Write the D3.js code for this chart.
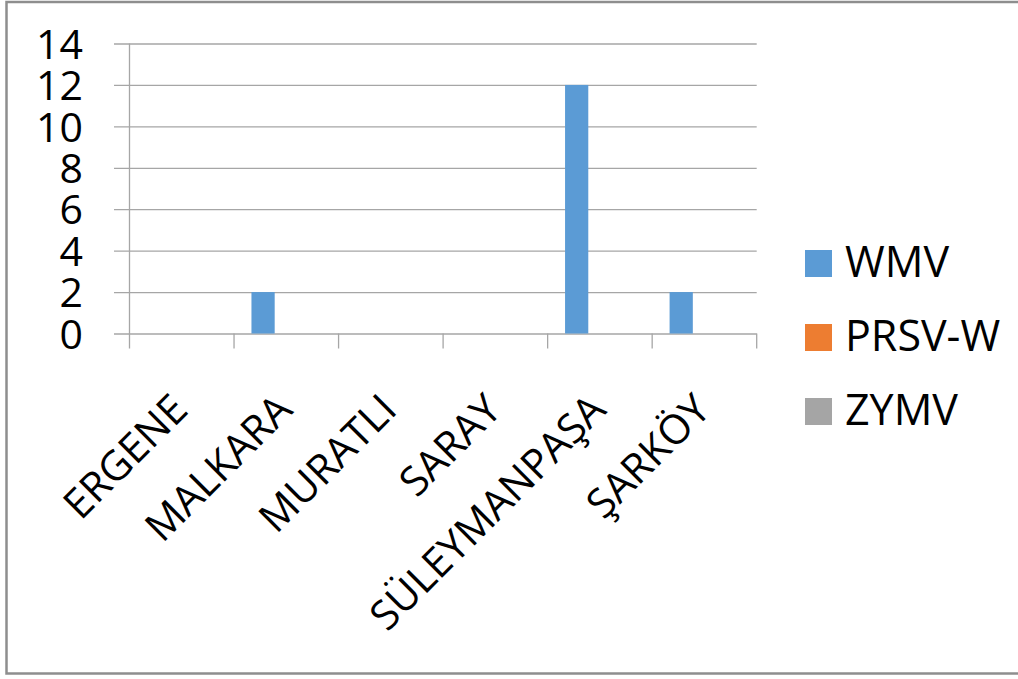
<!DOCTYPE html>
<html>
<head>
<meta charset="utf-8">
<script src="https://cdn.jsdelivr.net/npm/d3@7"></script>
<style>
  html, body { margin: 0; padding: 0; background: #fff; }
  svg { display: block; }
  text { font-family: "Open Sans", "DejaVu Sans", sans-serif; fill: #000; }
</style>
</head>
<body>
<svg id="chart" width="1018" height="679"></svg>
<script>
const categories = ["ERGENE", "MALKARA", "MURATLI", "SARAY", "SÜLEYMANPAŞA", "ŞARKÖY"];
const seriesNames = ["WMV", "PRSV-W", "ZYMV"];
const wmv   = [0, 2, 0, 0, 12, 2];
const prsvw = [0, 0, 0, 0, 0, 0];
const zymv  = [0, 0, 0, 0, 0, 0];
const yTicks = [0, 2, 4, 6, 8, 10, 12, 14];
const colors = ["#5b9bd5", "#ed7d31", "#a5a5a5"];

const seriesValues = [wmv, prsvw, zymv];
const rows = categories.map((c, i) => ({
  cat: c,
  vals: seriesNames.map((s, j) => ({ key: s, value: seriesValues[j][i] }))
}));

const svg = d3.select("#chart");

// outer frame
svg.append("rect")
  .attr("x", 6.5).attr("y", 2)
  .attr("width", 1040).attr("height", 671.5)
  .attr("fill", "#fff")
  .attr("stroke", "#8e8e8e").attr("stroke-width", 2.5);

const plotL = 129.5, plotR = 756.7, plotT = 43.5, plotB = 333.5;
const gridL = 114;

const x = d3.scaleBand().domain(categories).range([plotL, plotR]).paddingInner(0).paddingOuter(0);
const x1 = d3.scaleBand().domain(seriesNames).range([0, x.bandwidth()]).paddingInner(0).paddingOuter(0.75);
const y = d3.scaleLinear().domain([0, 14]).range([plotB, plotT]);

const gridColor = "#a6a6a6";

// horizontal gridlines (extend left past the axis like the original)
const grid = svg.append("g")
  .attr("transform", `translate(${plotR},0)`)
  .call(d3.axisLeft(y).tickValues(yTicks).tickSize(plotR - gridL).tickFormat(""));
grid.select(".domain").remove();
grid.selectAll(".tick line").attr("stroke", gridColor).attr("stroke-width", 1.3);

// y tick labels
const yLab = svg.append("g")
  .attr("transform", `translate(${gridL},0)`)
  .call(d3.axisLeft(y).tickValues(yTicks).tickSize(0).tickPadding(31).tickFormat(d3.format("d")));
yLab.select(".domain").remove();
yLab.selectAll("text")
  .style("font-family", '"Open Sans", sans-serif')
  .style("font-size", "41px")
  .attr("fill", "#000")
  .attr("dy", "0.36em");

// vertical axis line
svg.append("line")
  .attr("x1", plotL).attr("x2", plotL)
  .attr("y1", plotT).attr("y2", plotB + 15)
  .attr("stroke", gridColor).attr("stroke-width", 1.3);

// category boundary ticks
const boundaries = categories.map(c => x(c)).concat([x(categories[categories.length - 1]) + x.bandwidth()]);
svg.append("g").selectAll("line")
  .data(boundaries.slice(1))
  .join("line")
  .attr("x1", d => d).attr("x2", d => d)
  .attr("y1", plotB).attr("y2", plotB + 15)
  .attr("stroke", gridColor).attr("stroke-width", 1.3);

// bars
const groups = svg.append("g").selectAll("g")
  .data(rows)
  .join("g")
  .attr("transform", d => `translate(${x(d.cat)},0)`);
groups.selectAll("rect")
  .data(d => d.vals)
  .join("rect")
  .attr("x", d => x1(d.key))
  .attr("width", x1.bandwidth())
  .attr("y", d => y(d.value))
  .attr("height", d => y(0) - y(d.value))
  .attr("fill", (d, i) => colors[i]);

// category labels, rotated
svg.append("g").selectAll("text")
  .data(categories)
  .join("text")
  .attr("transform", d => `translate(${x(d) + x.bandwidth() / 2 + 8},412) rotate(-45)`)
  .attr("text-anchor", "end")
  .style("font-size", "41px")
  .text(d => d);

// legend
const leg = svg.append("g").selectAll("g")
  .data(seriesNames)
  .join("g")
  .attr("transform", (d, i) => `translate(805,${250 + i * 74})`);
leg.append("rect")
  .attr("width", 27).attr("height", 27)
  .attr("fill", (d, i) => colors[i]);
leg.append("text")
  .attr("x", 40).attr("y", 27)
  .style("font-size", "43px")
  .text(d => d);
</script>
</body>
</html>
